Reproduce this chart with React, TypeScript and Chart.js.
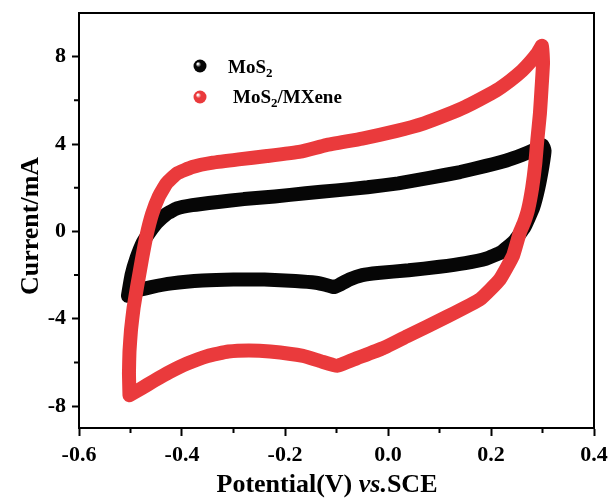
import React, { useEffect, useRef } from "react";
import { Chart, registerables } from "chart.js";

Chart.register(...registerables);

// ---- axis ticks ----
const xTicks = [-0.6, -0.4, -0.2, 0.0, 0.2, 0.4];
const yTicks = [-8, -4, 0, 4, 8];
const xMinor = [-0.5, -0.3, -0.1, 0.1, 0.3];
const yMinor = [-6, -2, 2, 6];

// ---- MoS2 (black) CV loop: potential (V) / current (mA) ----
const mosV = [
  -0.505, -0.498, -0.488, -0.476, -0.462, -0.449, -0.43, -0.41, -0.38, -0.33,
  -0.28, -0.22, -0.16, -0.1, -0.04, 0.02, 0.08, 0.14, 0.19, 0.23,
  0.26, 0.285, 0.3, 0.304, 0.3, 0.292, 0.282, 0.265, 0.245, 0.22,
  0.19, 0.15, 0.1, 0.04, -0.02, -0.05, -0.075, -0.095, -0.105, -0.12,
  -0.14, -0.18, -0.24, -0.3, -0.36, -0.42, -0.46, -0.485, -0.505,
];
const mosI = [
  -2.95, -2.0, -1.2, -0.5, 0.0, 0.4, 0.8, 1.05, 1.2, 1.35,
  1.48, 1.6, 1.75, 1.88, 2.02, 2.2, 2.45, 2.72, 3.0, 3.25,
  3.5, 3.75, 3.95, 3.7, 3.0, 2.0, 1.1, 0.2, -0.45, -0.95,
  -1.25, -1.45, -1.62, -1.78, -1.9, -2.0, -2.2, -2.45, -2.55, -2.45,
  -2.35, -2.27, -2.2, -2.2, -2.25, -2.38, -2.55, -2.7, -2.95,
];

// ---- MoS2/MXene (red) CV loop ----
const mxV = [
  -0.502, -0.503, -0.502, -0.499, -0.494, -0.487, -0.478, -0.469, -0.458, -0.445,
  -0.43, -0.41, -0.38, -0.34, -0.29, -0.235, -0.17, -0.12, -0.05, 0.017,
  0.07, 0.115, 0.15, 0.179, 0.21, 0.237, 0.26, 0.276, 0.29, 0.299,
  0.301, 0.298, 0.295, 0.29, 0.286, 0.28, 0.272, 0.264, 0.256, 0.243,
  0.217, 0.179, 0.115, 0.037, -0.01, -0.06, -0.099, -0.13, -0.165, -0.229,
  -0.27, -0.31, -0.35, -0.39, -0.425, -0.455, -0.48, -0.502,
];
const mxI = [
  -7.5, -6.5, -5.5, -4.5, -3.5, -2.5, -1.3, -0.2, 0.8, 1.6,
  2.2, 2.65, 2.95, 3.15, 3.3, 3.45, 3.65, 3.95, 4.25, 4.6,
  4.95, 5.35, 5.7, 6.05, 6.45, 6.9, 7.35, 7.75, 8.15, 8.5,
  7.7, 6.5, 5.4, 4.2, 3.1, 2.0, 1.0, 0.4, -0.05, -1.1,
  -2.2, -3.1, -3.9, -4.8, -5.35, -5.8, -6.15, -5.95, -5.7, -5.5,
  -5.45, -5.5, -5.7, -6.05, -6.45, -6.85, -7.2, -7.5,
];

const seriesNames = ["MoS", "MoS"];
const BLACK = "#060606";
const RED = "#EA3A3C";
const FONT = '"Liberation Serif", "Times New Roman", serif';

function ball(ctx: CanvasRenderingContext2D, x: number, y: number, r: number, color: string) {
  const g = ctx.createRadialGradient(x - r * 0.35, y - r * 0.35, r * 0.1, x, y, r);
  g.addColorStop(0, "#ffffff");
  g.addColorStop(0.35, color);
  g.addColorStop(1, color);
  ctx.fillStyle = g;
  ctx.beginPath();
  ctx.arc(x, y, r, 0, Math.PI * 2);
  ctx.fill();
}

const decor = {
  id: "decor",
  afterDraw(chart: any) {
    const ctx: CanvasRenderingContext2D = chart.ctx;
    const { left, right, top, bottom } = chart.chartArea;
    const xs = chart.scales.x;
    const ys = chart.scales.y;
    ctx.save();
    ctx.strokeStyle = "#000";
    ctx.lineWidth = 2;
    ctx.strokeRect(left, top, right - left, bottom - top);
    ctx.beginPath();
    xMinor.forEach((v) => {
      const p = xs.getPixelForValue(v);
      ctx.moveTo(p, bottom);
      ctx.lineTo(p, bottom + 5);
    });
    yMinor.forEach((v) => {
      const p = ys.getPixelForValue(v);
      ctx.moveTo(left, p);
      ctx.lineTo(left - 5, p);
    });
    ctx.stroke();

    // y title
    ctx.fillStyle = "#000";
    ctx.save();
    ctx.translate(38, 226);
    ctx.rotate(-Math.PI / 2);
    ctx.font = `bold 26px ${FONT}`;
    ctx.textAlign = "center";
    ctx.textBaseline = "alphabetic";
    ctx.fillText("Current/mA", 0, 0);
    ctx.restore();

    // x title with italic "vs."
    const parts = [
      { t: "Potential(V) ", f: `bold 26px ${FONT}` },
      { t: "vs.", f: `italic bold 26px ${FONT}` },
      { t: "SCE", f: `bold 26px ${FONT}` },
    ];
    let total = 0;
    parts.forEach((p) => {
      ctx.font = p.f;
      total += ctx.measureText(p.t).width;
    });
    let x = 327 - total / 2;
    ctx.textAlign = "left";
    ctx.textBaseline = "alphabetic";
    parts.forEach((p) => {
      ctx.font = p.f;
      ctx.fillText(p.t, x, 492);
      x += ctx.measureText(p.t).width;
    });

    // legend
    ball(ctx, 200, 66, 6.5, BLACK);
    ball(ctx, 200, 97, 6.5, RED);
    const drawSub = (x0: number, y0: number, tail: string, name: string) => {
      ctx.fillStyle = "#000";
      ctx.font = `bold 19px ${FONT}`;
      ctx.fillText(name, x0, y0);
      let xx = x0 + ctx.measureText(name).width;
      ctx.font = `bold 13px ${FONT}`;
      ctx.fillText("2", xx, y0 + 4);
      xx += ctx.measureText("2").width;
      if (tail) {
        ctx.font = `bold 19px ${FONT}`;
        ctx.fillText(tail, xx, y0);
      }
    };
    drawSub(228, 73, "", seriesNames[0]);
    drawSub(233, 103, "/MXene", seriesNames[1]);
    ctx.restore();
  },
};

export default function App() {
  const ref = useRef<HTMLCanvasElement | null>(null);
  useEffect(() => {
    if (!ref.current) return;
    const blackData = mosV.map((v, i) => ({ x: v, y: mosI[i] }));
    const redData = mxV.map((v, i) => ({ x: v, y: mxI[i] }));
    const tickFont = { family: FONT, size: 22, weight: "bold" as const };
    const chart = new Chart(ref.current, {
      type: "scatter",
      data: {
        datasets: [
          {
            label: "MoS2",
            data: blackData,
            showLine: true,
            borderColor: BLACK,
            backgroundColor: BLACK,
            borderWidth: 14,
            pointRadius: 0,
            tension: 0.12,
            borderCapStyle: "round",
            borderJoinStyle: "round",
            order: 2,
          } as any,
          {
            label: "MoS2/MXene",
            data: redData,
            showLine: true,
            borderColor: RED,
            backgroundColor: RED,
            borderWidth: 14,
            pointRadius: 0,
            tension: 0.12,
            borderCapStyle: "round",
            borderJoinStyle: "round",
            order: 1,
          } as any,
        ],
      },
      options: {
        animation: false,
        responsive: true,
        maintainAspectRatio: false,
        layout: { padding: { left: 0, right: 19, top: 13, bottom: 0 } },
        plugins: { legend: { display: false }, tooltip: { enabled: false } },
        scales: {
          x: {
            type: "linear",
            min: -0.6,
            max: 0.4,
            afterBuildTicks: (s: any) => {
              s.ticks = xTicks.map((v) => ({ value: v }));
            },
            afterFit: (s: any) => {
              s.height = 73;
              s.paddingLeft = 0;
              s.paddingRight = 0;
            },
            ticks: {
              font: tickFont,
              color: "#000",
              padding: 6,
              maxRotation: 0,
              callback: (v: any) => (Math.abs(Number(v)) < 1e-9 ? "0.0" : Number(v).toFixed(1)),
            },
            grid: {
              display: true,
              drawOnChartArea: false,
              drawTicks: true,
              tickLength: 8,
              tickWidth: 2,
              tickColor: "#000",
            },
            border: { display: true, color: "#000", width: 2 },
          },
          y: {
            type: "linear",
            min: -9,
            max: 10,
            afterBuildTicks: (s: any) => {
              s.ticks = yTicks.map((v) => ({ value: v }));
            },
            afterFit: (s: any) => {
              s.width = 79;
              s.paddingTop = 0;
              s.paddingBottom = 0;
            },
            ticks: {
              font: tickFont,
              color: "#000",
              padding: 6,
              callback: (v: any) => String(v),
            },
            grid: {
              display: true,
              drawOnChartArea: false,
              drawTicks: true,
              tickLength: 7,
              tickWidth: 2,
              tickColor: "#000",
            },
            border: { display: true, color: "#000", width: 2 },
          },
        },
      },
      plugins: [decor],
    });
    return () => chart.destroy();
  }, []);
  return (
    <div style={{ position: "absolute", left: 0, top: 0, width: 613, height: 501, background: "#fff" }}>
      <canvas ref={ref} />
    </div>
  );
}
